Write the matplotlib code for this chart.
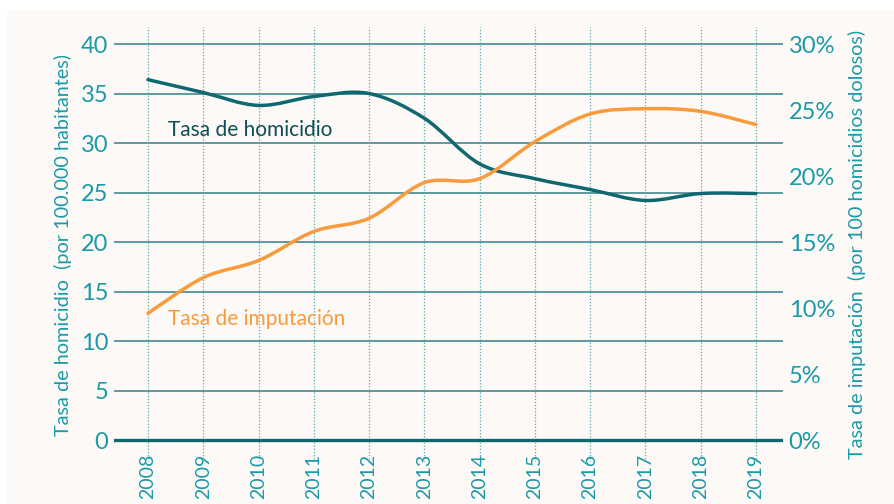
import matplotlib.pyplot as plt
from matplotlib.path import Path
from matplotlib.patches import PathPatch, Rectangle

plt.rcParams['font.family'] = ['Lato', 'DejaVu Sans']

years = [2008, 2009, 2010, 2011, 2012, 2013, 2014, 2015, 2016, 2017, 2018, 2019]
homicidio = [36.4, 35.1, 33.8, 34.7, 35.0, 32.5, 27.9, 26.4, 25.3, 24.2, 24.9, 24.9]
imputacion = [9.6, 12.3, 13.6, 15.8, 16.8, 19.5, 19.8, 22.6, 24.7, 25.1, 24.9, 23.9]
left_ticks = [0, 5, 10, 15, 20, 25, 30, 35, 40]
right_ticks = ['0%', '5%', '10%', '15%', '20%', '25%', '30%']

TEAL = '#1a9aa8'
DARK = '#0f6770'
ORANGE = '#f89b3c'


def smooth_path(xs, ys):
    # Catmull-Rom segments written as cubic Bezier pieces
    verts = [(xs[0], ys[0])]
    codes = [Path.MOVETO]
    n = len(xs)
    for i in range(n - 1):
        x0, y0 = xs[max(i - 1, 0)], ys[max(i - 1, 0)]
        x1, y1 = xs[i], ys[i]
        x2, y2 = xs[i + 1], ys[i + 1]
        x3, y3 = xs[min(i + 2, n - 1)], ys[min(i + 2, n - 1)]
        c1 = (x1 + (x2 - x0) / 6, y1 + (y2 - y0) / 6)
        c2 = (x2 - (x3 - x1) / 6, y2 - (y3 - y1) / 6)
        verts += [c1, c2, (x2, y2)]
        codes += [Path.CURVE4] * 3
    return Path(verts, codes)


fig = plt.figure(figsize=(8.95, 5.04), dpi=100, facecolor='white')
fig.patches.append(Rectangle((7 / 895, 0), 1, 494 / 504, transform=fig.transFigure,
                             facecolor='#fdf9f6', edgecolor='none', zorder=-10))

ax = fig.add_axes([114 / 895, 42 / 504, 669 / 895, 435 / 504])
ax.set_facecolor('none')
ax.set_xlim(2007.385, 2019.49)
ax.set_ylim(-2.22, 41.72)
for s in ax.spines.values():
    s.set_visible(False)

for v in left_ticks[1:]:
    ax.axhline(v, color='#2f7f88', lw=1.1, zorder=1)
ax.axhline(0, color=DARK, lw=2.4, zorder=3)
for yr in years:
    ax.axvline(yr, color='#5aa9b1', lw=0.9, ls=(0, (1, 1.5)), zorder=1)

ax.add_patch(PathPatch(smooth_path(years, homicidio), facecolor='none',
                       edgecolor=DARK, lw=2.5, zorder=4, capstyle='round'))
ax.add_patch(PathPatch(smooth_path(years, [v * 40 / 30 for v in imputacion]),
                       facecolor='none', edgecolor=ORANGE, lw=2.5, zorder=4,
                       capstyle='round'))

ax.set_yticks(left_ticks)
ax.set_yticklabels([str(t) for t in left_ticks])
ax.set_xticks(years)
ax.set_xticklabels([str(y) for y in years], rotation=90)
ax.tick_params(axis='y', length=0, pad=4, labelsize=17, labelcolor=TEAL)
ax.tick_params(axis='x', length=0, pad=-6, labelsize=14, labelcolor=TEAL)

ax2 = ax.twinx()
ax2.set_ylim(-2.22 * 30 / 40, 41.72 * 30 / 40)
for s in ax2.spines.values():
    s.set_visible(False)
ax2.set_yticks([0, 5, 10, 15, 20, 25, 30])
ax2.set_yticklabels(right_ticks)
ax2.tick_params(axis='y', length=0, pad=4, labelsize=17, labelcolor=TEAL)

ax.set_ylabel('Tasa de homicidio  (por 100.000 habitantes)', fontsize=14.3,
              color=TEAL, labelpad=6)
ax2.set_ylabel('Tasa de imputación  (por 100 homicidios dolosos)', fontsize=14.3,
               color=TEAL, labelpad=9)

ax.text(2008.37, 31.3, 'Tasa de homicidio', fontsize=15, color='#0d4f57',
        va='center', ha='left', zorder=5)
ax.text(2008.37, 12.2, 'Tasa de imputación', fontsize=15, color=ORANGE,
        va='center', ha='left', zorder=5)

fig.savefig('out.png', dpi=100, facecolor=fig.get_facecolor())
